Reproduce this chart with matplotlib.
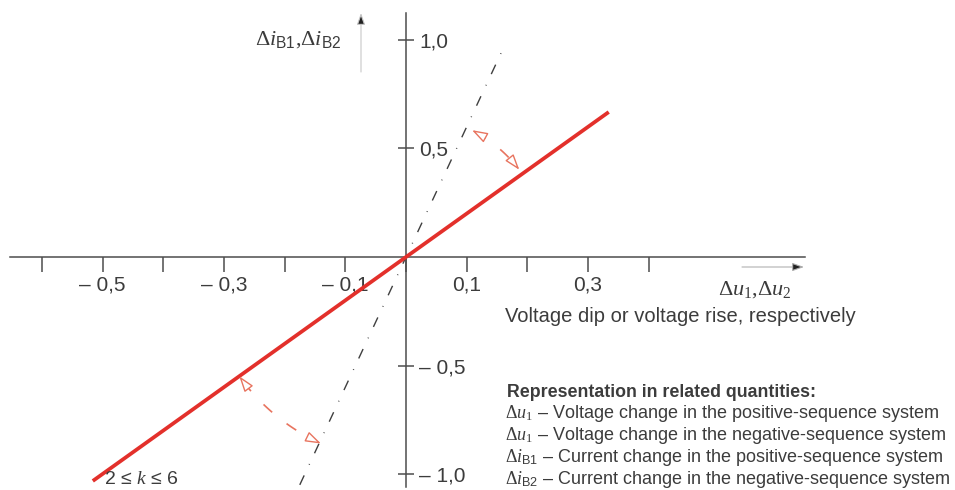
import numpy as np
import matplotlib
matplotlib.use("Agg")
import matplotlib.pyplot as plt
from matplotlib.ticker import FixedLocator, FixedFormatter

plt.rcParams['font.family'] = ['Liberation Sans', 'DejaVu Sans']
plt.rcParams['mathtext.fontset'] = 'custom'
plt.rcParams['mathtext.rm'] = 'Liberation Serif'
plt.rcParams['mathtext.it'] = 'Liberation Serif:italic'
plt.rcParams['mathtext.sf'] = 'Liberation Sans'

# characteristic lines  delta_i = k * delta_u
k_values = [2, 6]
u_range = {2: (-0.516, 0.334), 6: (-0.175, 0.163)}

x_ticks = [-0.6, -0.5, -0.4, -0.3, -0.2, -0.1, 0.0, 0.1, 0.2, 0.3, 0.4]
x_labels = ['', '– 0,5', '', '– 0,3', '', '– 0,1', '', '0,1', '', '0,3', '']
y_ticks = [-1.0, -0.5, 0.5, 1.0]
y_labels = ['– 1,0', '– 0,5', '0,5', '1,0']

legend_lines = [
    r'$\Delta u_1$ – Voltage change in the positive-sequence system',
    r'$\Delta u_1$ – Voltage change in the negative-sequence system',
    r'$\Delta i_{\mathsf{B1}}$ – Current change in the positive-sequence system',
    r'$\Delta i_{\mathsf{B2}}$ – Current change in the negative-sequence system',
]

W, H = 955, 490
red = '#e3302b'
arc_red = '#e8745f'
axis_grey = '#4d4d4d'
text_grey = '#3c3c3c'

fig = plt.figure(figsize=(W / 100, H / 100), dpi=100)
ax = fig.add_axes([0, 0, 1, 1])
ax.set_xlim(-0.6689, 0.9045)
ax.set_ylim(-1.0737, 1.1843)
ax.patch.set_visible(False)

# axes through the origin
for side in ['top', 'left']:
    ax.spines[side].set_visible(False)
ax.spines['bottom'].set_position(('data', 0))
ax.spines['right'].set_position(('data', 0))
ax.spines['bottom'].set_bounds(-0.652, 0.657)
ax.spines['right'].set_bounds(-1.06, 1.124)
for side in ['bottom', 'right']:
    ax.spines[side].set_color(axis_grey)
    ax.spines[side].set_linewidth(1.1)

ax.xaxis.set_major_locator(FixedLocator(x_ticks))
ax.xaxis.set_major_formatter(FixedFormatter(x_labels))
ax.yaxis.tick_right()
ax.yaxis.set_major_locator(FixedLocator(y_ticks))
ax.yaxis.set_major_formatter(FixedFormatter(y_labels))
ax.tick_params(axis='x', direction='out', length=10.5, width=1.1, color=axis_grey,
               labelsize=15, labelcolor=text_grey, pad=3)
ax.tick_params(axis='y', direction='inout', length=11, width=1.1, color=axis_grey,
               labelsize=15, labelcolor=text_grey, pad=4)

# characteristic lines
u = np.array(u_range[2])
ax.plot(u, k_values[0] * u, color=red, lw=2.7, solid_capstyle='butt', zorder=4)
u = np.array(u_range[6])
ax.plot(u, k_values[1] * u, color='#3f3f3f', lw=1.0,
        linestyle=(0, (7.5, 8.5, 0.6, 8.5)), zorder=3)

# double-headed arcs between the two lines
to_data = ax.transData.inverted()
o = ax.transData.transform((0, 0))
sx = ax.transData.transform((1, 0))[0] - o[0]
sy = ax.transData.transform((0, 1))[1] - o[1]
ang2 = np.degrees(np.arctan2(k_values[0] * sy, sx))
ang6 = np.degrees(np.arctan2(k_values[1] * sy, sx))


def arc(r, a0, a1):
    t = np.radians(np.linspace(a0, a1, 60))
    pts = np.column_stack([o[0] + r * np.cos(t), o[1] + r * np.sin(t)])
    pts = to_data.transform(pts)
    ax.plot(pts[4:-4, 0], pts[4:-4, 1], color=arc_red, lw=1.2,
            linestyle=(0, (7, 11)), zorder=3)
    for a, b in [(pts[6], pts[0]), (pts[-7], pts[-1])]:
        ax.annotate('', xy=b, xytext=a,
                    arrowprops=dict(arrowstyle='-|>,head_length=0.95,head_width=0.32',
                                    fc='white', ec=arc_red, lw=1.0,
                                    shrinkA=0, shrinkB=0), zorder=5)


arc(143, ang6 - 2.5, ang2 + 2.0)
arc(205, ang2 + 180, ang6 + 180.5)

# direction arrows beside the axes
def px(x, y):
    return to_data.transform((x, H - y))


ax.annotate('', xy=px(361, 13), xytext=px(361, 72),
            arrowprops=dict(arrowstyle='-|>,head_length=0.7,head_width=0.25',
                            fc='#222222', ec='#c8c8c8', lw=0.8, shrinkA=0, shrinkB=0))
ax.annotate('', xy=px(804, 267), xytext=px(742, 267),
            arrowprops=dict(arrowstyle='-|>,head_length=0.7,head_width=0.25',
                            fc='#222222', ec='#b0b0b0', lw=0.8, shrinkA=0, shrinkB=0))

# labels
fig.text(255 / W, 1 - 40 / H, r'$\Delta i_{\mathsf{B1}}{,}\Delta i_{\mathsf{B2}}$',
         fontsize=16, color=text_grey, va='center', ha='left')
fig.text(718 / W, 1 - 289 / H, r'$\Delta u_1{,}\Delta u_2$',
         fontsize=16, color=text_grey, va='center', ha='left')
fig.text(505 / W, 1 - 316 / H, 'Voltage dip or voltage rise, respectively',
         fontsize=14.5, color=text_grey, va='center', ha='left')
fig.text(104 / W, 1 - 488 / H, r'2 ≤ $k$ ≤ 6',
         fontsize=14, color=text_grey, va='bottom', ha='left')

fig.text(507 / W, 1 - 392 / H, 'Representation in related quantities:',
         fontsize=12.8, fontweight='bold', color=text_grey, va='center', ha='left')
for i, line in enumerate(legend_lines):
    fig.text(505 / W, 1 - (413 + 22 * i) / H, line,
             fontsize=13, color=text_grey, va='center', ha='left')

fig.savefig('out.png', dpi=100, facecolor='white')
